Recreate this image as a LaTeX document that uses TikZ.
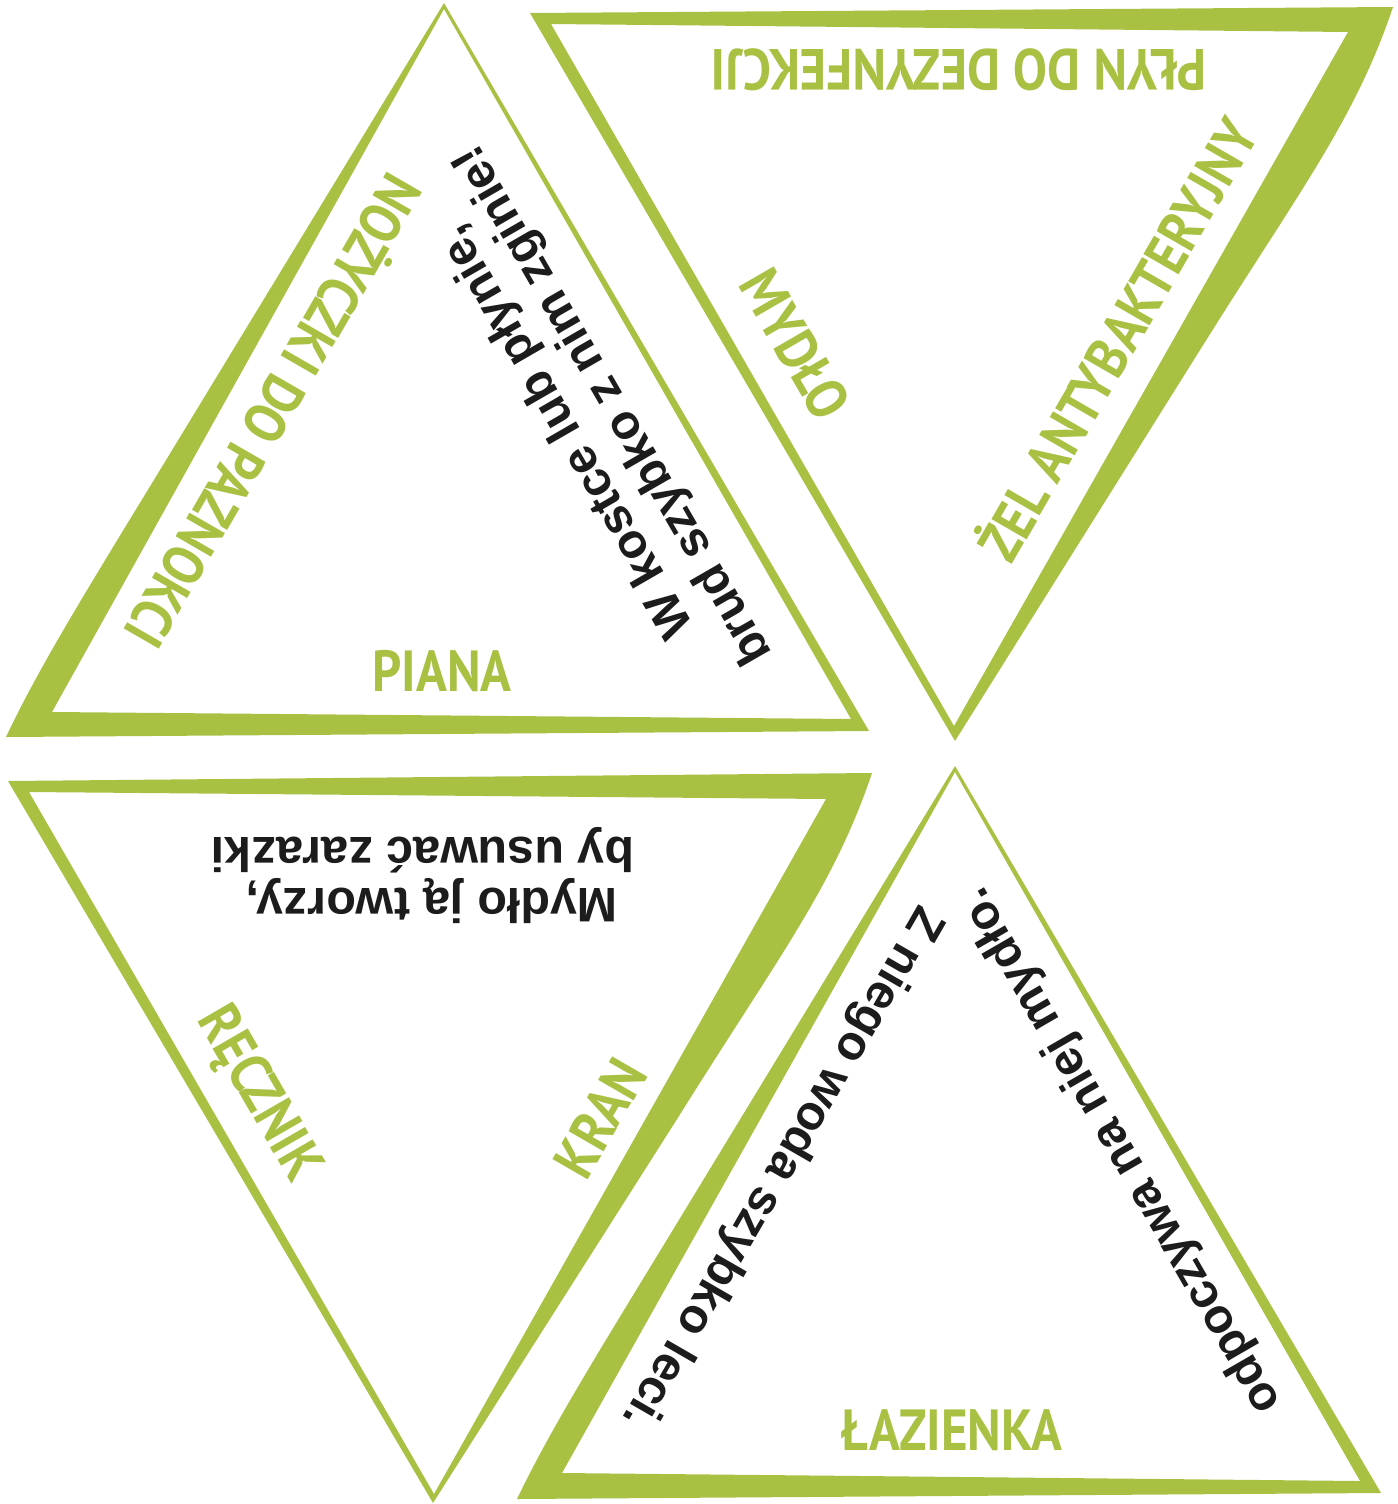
\documentclass[tikz,border=0pt]{standalone}
\usepackage{fontspec}
\newfontfamily\gfont{PT Sans}
\newfontfamily\bfont{Liberation Sans}
\definecolor{lgreen}{RGB}{168,193,67}
\definecolor{inkblack}{RGB}{28,28,28}
\tikzset{
  brush/.style={fill=lgreen, even odd rule, draw=none},
  gtxt/.style={font=\gfont\bfseries\fontsize{58}{60}\selectfont, text=lgreen, inner sep=0pt, text height=41pt, text depth=0pt},
  gnarrow/.style={xscale=0.88},
  btxt/.style={font=\bfont\bfseries\fontsize{48.5}{54}\selectfont, text=inkblack, inner sep=0pt, text height=35pt, text depth=0pt}
}
\begin{document}
\begin{tikzpicture}[x=1pt,y=-1pt]
\useasboundingbox (0,0) rectangle (1397,1504);
\fill[white] (0,0) rectangle (1397,1504);
% triangle 1 (top left, apex up)
\fill[brush] (444,3) -- (869,731) -- (6,737) .. controls (40,665) and (90,585) .. (160,470) -- cycle
             (444,9) -- (851,719) -- (52,712) -- cycle;
% triangle 2 (top right, apex down)
\fill[brush] (530,13) -- (1393,7) .. controls (1355,120) and (1300,190) .. (1200,350) -- (955,741) -- cycle
             (551,24) -- (1348,32) -- (954,726) -- cycle;
% triangle 3 (bottom left, apex down)
\fill[brush] (8,781) -- (872,773) .. controls (834,886) and (779,956) .. (679,1116) -- (433,1503) -- cycle
             (29,792) -- (826,799) -- (434,1494) -- cycle;
% triangle 4 (bottom right, apex up)
\fill[brush] (955,766) -- (1381,1493) -- (517,1499) .. controls (551,1428) and (601,1348) .. (671,1233) -- cycle
             (955,772) -- (1360,1481) -- (562,1473) -- cycle;
% texts
\node[gtxt, rotate=-120, gnarrow] (nozyczki) at (273,411) {NOŻYCZKI DO PAZNOKCI};
\node[gtxt, gnarrow] (piana) at (442,671) {PIANA};
\node[btxt, rotate=120] (kostce) at (563,433) {W kostce lub płynie,};
\node[btxt, rotate=120] (brud) at (610,407) {brud szybko z nim zginie!};
\node[gtxt, rotate=180, gnarrow] (plyn) at (959,70) {PŁYN DO DEZYNFEKCJI};
\node[gtxt, rotate=-60, gnarrow] (mydlo) at (795,344) {MYDŁO};
\node[gtxt, rotate=60, gnarrow] (zel) at (1118,340) {ŻEL ANTYBAKTERYJNY};
\node[btxt, rotate=180] (mydlotw) at (432,906) {Mydło ją tworzy,};
\node[btxt, rotate=180] (usuwac) at (423,855) {by usuwać zarazki};
\node[gtxt, rotate=-60, gnarrow] (recznik) at (262,1092) {RĘCZNIK};
\node[gtxt, rotate=60, gnarrow] (kran) at (600,1118) {KRAN};
\node[gtxt, gnarrow] (lazienka) at (952,1430) {ŁAZIENKA};
\node[btxt, rotate=-120] (zniego) at (786,1170) {Z niego woda szybko leci.};
\node[btxt, rotate=120] (odpoczywa) at (1117,1153) {odpoczywa na niej mydło.};
\end{tikzpicture}
\end{document}
